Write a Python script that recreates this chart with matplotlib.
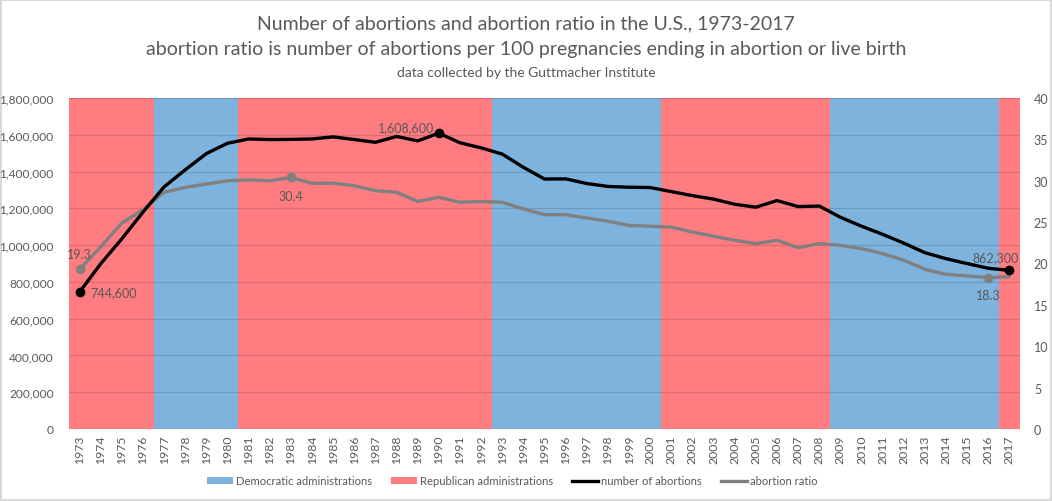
import matplotlib
matplotlib.use("Agg")
import matplotlib.pyplot as plt
from matplotlib.patches import Patch
from matplotlib.lines import Line2D
from matplotlib.ticker import FuncFormatter, MultipleLocator

plt.rcParams['font.family'] = ['Lato', 'DejaVu Sans']

years = list(range(1973, 2018))
abortions = [744600, 898600, 1034200, 1179300, 1316700, 1409600, 1497700, 1553900,
             1577300, 1573900, 1575000, 1577200, 1588600, 1574000, 1559100, 1590800,
             1566900, 1608600, 1556500, 1528900, 1495000, 1423000, 1359400, 1360200,
             1335000, 1319000, 1314800, 1313000, 1291000, 1269000, 1250000, 1222100,
             1206200, 1242200, 1209600, 1212400, 1151600, 1102700, 1058500, 1011000,
             958700, 926200, 899500, 874100, 862300]
ratio = [19.3, 22.0, 24.9, 26.5, 28.6, 29.2, 29.6, 30.0, 30.1, 30.0, 30.4, 29.7,
         29.7, 29.4, 28.8, 28.6, 27.5, 28.0, 27.4, 27.5, 27.4, 26.6, 25.9, 25.9,
         25.5, 25.1, 24.6, 24.5, 24.4, 23.8, 23.3, 22.8, 22.4, 22.8, 21.9, 22.4,
         22.2, 21.8, 21.2, 20.4, 19.3, 18.7, 18.5, 18.3, 18.4]
party = (['R'] * 4 + ['D'] * 4 + ['R'] * 12 + ['D'] * 8 + ['R'] * 8 + ['D'] * 8 + ['R'] * 1)
band_height = 1800000

RED = '#FF7C80'
BLUE = '#7DB3DC'
BLACK = '#000000'
GRAY = '#808080'
TXT = '#595959'

fig = plt.figure(figsize=(10.52, 5.02), dpi=100)
fig.patch.set_edgecolor('#D9D9D9')
fig.patch.set_linewidth(1.5)

ax = fig.add_axes([69/1052, (502-430)/502, (1020-69)/1052, 331/502])
x = list(range(len(years)))
colors = [RED if p == 'R' else BLUE for p in party]
ax.bar(x, [band_height] * len(x), width=1.0, color=colors, zorder=1, linewidth=0)
ax.set_xlim(-0.5, len(years) - 0.5)
ax.set_ylim(0, 1800000)
ax.yaxis.set_major_locator(MultipleLocator(200000))
ax.yaxis.set_major_formatter(FuncFormatter(lambda v, p: f"{int(v):,}"))
ax.set_xticks(x)
ax.set_xticklabels([str(y) for y in years], rotation=90, fontsize=8.8, color=TXT)
ax.tick_params(axis='both', length=0, labelcolor=TXT)
ax.tick_params(axis='y', labelsize=8.6, pad=11)
ax.tick_params(axis='x', pad=4)
ax.grid(axis='y', color='#000000', alpha=0.13, linewidth=0.9)
ax.set_axisbelow('line')
for s in ax.spines.values():
    s.set_visible(False)

ax2 = ax.twinx()
ax2.set_ylim(0, 40)
ax2.yaxis.set_major_locator(MultipleLocator(5))
ax2.tick_params(axis='y', length=0, labelsize=9, labelcolor=TXT, pad=10)
for s in ax2.spines.values():
    s.set_visible(False)
ax2.plot(x, ratio, color=GRAY, linewidth=2.4, solid_capstyle='round', zorder=3)
gray_marks = [0, years.index(1983), years.index(2016)]
ax2.plot([x[i] for i in gray_marks], [ratio[i] for i in gray_marks], 'o',
         color=GRAY, markersize=6, zorder=4)

ax3 = ax.twinx()
ax3.set_ylim(0, 1800000)
ax3.set_yticks([])
for s in ax3.spines.values():
    s.set_visible(False)
ax3.plot(x, abortions, color=BLACK, linewidth=2.4, solid_capstyle='round', zorder=3)
black_marks = [0, years.index(1990), years.index(2017)]
ax3.plot([x[i] for i in black_marks], [abortions[i] for i in black_marks], 'o',
         color=BLACK, markersize=6, zorder=4)

lbl = dict(fontsize=9, color=TXT)
ax2.annotate(f"{ratio[0]}", (x[0], ratio[0]), xytext=(0, 7), textcoords='offset points',
             ha='center', va='bottom', **lbl)
i83 = years.index(1983)
ax2.annotate(f"{ratio[i83]}", (x[i83], ratio[i83]), xytext=(0, -9), textcoords='offset points',
             ha='center', va='top', **lbl)
i16 = years.index(2016)
ax2.annotate(f"{ratio[i16]}", (x[i16], ratio[i16]), xytext=(0, -8), textcoords='offset points',
             ha='center', va='top', **lbl)
ax3.annotate(f"{abortions[0]:,}", (x[0], abortions[0]), xytext=(8, 0), textcoords='offset points',
             ha='left', va='center', **lbl)
i90 = years.index(1990)
ax3.annotate(f"{abortions[i90]:,}", (x[i90], abortions[i90]), xytext=(-3, 4), textcoords='offset points',
             ha='right', va='center', **lbl)
i17 = years.index(2017)
ax3.annotate(f"{abortions[i17]:,}", (x[i17], abortions[i17]), xytext=(-10, 5), textcoords='offset points',
             ha='center', va='bottom', **lbl)

fig.text(0.5, 1 - 24/502, "Number of abortions and abortion ratio in the U.S., 1973-2017",
         ha='center', va='center', fontsize=14, color=TXT)
fig.text(0.5, 1 - 49/502, "abortion ratio is number of abortions per 100 pregnancies ending in abortion or live birth",
         ha='center', va='center', fontsize=14, color=TXT)
fig.text(0.5, 1 - 73/502, "data collected by the Guttmacher Institute",
         ha='center', va='center', fontsize=10, color=TXT)

handles = [Patch(facecolor=BLUE, label='Democratic administrations'),
           Patch(facecolor=RED, label='Republican administrations'),
           Line2D([0], [0], color=BLACK, linewidth=2.4, label='number of abortions'),
           Line2D([0], [0], color=GRAY, linewidth=2.4, label='abortion ratio')]
leg = fig.legend(handles=handles, loc='center', bbox_to_anchor=(0.487, 1 - 482/502), ncol=4,
                 frameon=False, fontsize=8.1, handlelength=2.3, handleheight=0.6,
                 columnspacing=1.7, handletextpad=0.25)
for t in leg.get_texts():
    t.set_color(TXT)

fig.savefig('out.png', dpi=100)
